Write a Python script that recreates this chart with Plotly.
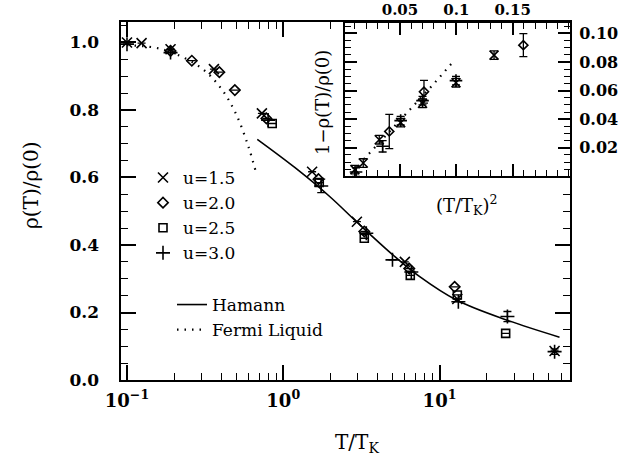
import plotly.graph_objects as go

W, H = 619, 465
FONT = "DejaVu Serif"

# ---------------- data (main panel) ----------------
T_u15 = [0.1, 0.124, 0.19, 0.36, 0.73, 1.53, 2.96, 6.0, 13.0, 54.5]
R_u15 = [1.0, 0.998, 0.98, 0.921, 0.79, 0.617, 0.469, 0.35, 0.24, 0.086]
E_u15 = [0, 0, 0, 0, 0, 0, 0, 0, 0, 0]

T_u20 = [0.19, 0.26, 0.39, 0.49, 0.78, 1.68, 3.3, 6.4, 12.5]
R_u20 = [0.975, 0.946, 0.912, 0.859, 0.775, 0.595, 0.44, 0.33, 0.276]
E_u20 = [0, 0, 0, 0, 0, 0, 0, 0, 0]

T_u25 = [0.85, 1.7, 3.3, 6.5, 13.0, 26.5]
R_u25 = [0.76, 0.585, 0.42, 0.31, 0.252, 0.138]
E_u25 = [0, 0, 0, 0, 0, 0]

T_u30 = [0.1, 0.19, 0.8, 1.75, 3.4, 5.0, 6.6, 13.2, 27.2, 54.5]
R_u30 = [0.995, 0.97, 0.77, 0.575, 0.435, 0.356, 0.32, 0.232, 0.188, 0.084]
E_u30 = [0, 0, 0, 0.02, 0, 0, 0, 0, 0.015, 0.008]

T_hamann = [0.682, 1.19, 1.99, 2.94, 5.05, 7.47, 12.8, 26.8, 58.6]
R_hamann = [0.713, 0.629, 0.543, 0.469, 0.370, 0.306, 0.237, 0.178, 0.127]

T_fermi = [0.1, 0.15, 0.2, 0.3, 0.4, 0.5, 0.6, 0.67]
R_fermi = [0.992, 0.985, 0.968, 0.924, 0.864, 0.787, 0.69, 0.614]

# ---------------- data (inset) ----------------
X2_u15 = [0.010, 0.0174, 0.0316, 0.0506, 0.070, 0.0997, 0.1335]
Y2_u15 = [0.0047, 0.0093, 0.0256, 0.0376, 0.0511, 0.0655, 0.0848]
E2_u15 = [0.003, 0.003, 0.003, 0.003, 0.003, 0.003, 0.003]

X2_u20 = [0.0405, 0.0713, 0.1595]
Y2_u20 = [0.0314, 0.0592, 0.0918]
E2_u20 = [0.012, 0.008, 0.008]

X2_u30 = [0.011, 0.0346, 0.0506, 0.070, 0.0997]
Y2_u30 = [0.003, 0.021, 0.039, 0.053, 0.067]
E2_u30 = [0.003, 0.004, 0.003, 0.003, 0.003]

X2_fermi = [0.018, 0.04, 0.06, 0.08, 0.097]
Y2_fermi = [0.012, 0.0307, 0.0477, 0.0647, 0.080]

# tick labels
YTICKS = [0.0, 0.2, 0.4, 0.6, 0.8, 1.0]
XTICKS = [0.1, 1, 10]
XTICKTEXT = ["10<sup>\u22121</sup>", "10<sup>0</sup>", "10<sup>1</sup>"]
X2TICKS = [0.05, 0.1, 0.15]
X2TICKTEXT = ["0.05", "0.1", "0.15"]
Y2TICKS = [0.02, 0.04, 0.06, 0.08, 0.10]
Y2TICKTEXT = ["0.02", "0.04", "0.06", "0.08", "0.10"]

fig = go.Figure()

def err(a):
    return dict(type="data", array=a, color="black", thickness=1.3, width=4, visible=True)

series = [
    ("u=1.5", "x-thin-open", 10, T_u15, R_u15, E_u15),
    ("u=2.0", "diamond-open", 8, T_u20, R_u20, E_u20),
    ("u=2.5", "square-open", 8, T_u25, R_u25, E_u25),
    ("u=3.0", "cross-thin-open", 10, T_u30, R_u30, E_u30),
]
for name, sym, sz, xs, ys, es in series:
    fig.add_trace(go.Scatter(
        x=xs, y=ys, mode="markers", name=name, legendgroup=name, legend="legend",
        marker=dict(symbol=sym, size=sz, color="black", line=dict(color="black", width=1.6)),
        error_y=err(es), xaxis="x", yaxis="y"))

fig.add_trace(go.Scatter(x=T_hamann, y=R_hamann, mode="lines", name="Hamann", legend="legend2",
                         line=dict(color="black", width=1.6, shape="spline"), xaxis="x", yaxis="y"))
fig.add_trace(go.Scatter(x=T_fermi, y=R_fermi, mode="lines", name="Fermi Liquid", legend="legend2",
                         line=dict(color="black", width=2.2, dash="1.5px,6px", shape="spline"), xaxis="x", yaxis="y"))

inset = [
    ("u=1.5", "x-thin-open", 9, X2_u15, Y2_u15, E2_u15),
    ("u=2.0", "diamond-open", 7, X2_u20, Y2_u20, E2_u20),
    ("u=3.0", "cross-thin-open", 9, X2_u30, Y2_u30, E2_u30),
]
for name, sym, sz, xs, ys, es in inset:
    fig.add_trace(go.Scatter(
        x=xs, y=ys, mode="markers", name=name, legendgroup=name, showlegend=False,
        marker=dict(symbol=sym, size=sz, color="black", line=dict(color="black", width=1.6)),
        error_y=err(es), xaxis="x2", yaxis="y2"))
fig.add_trace(go.Scatter(x=X2_fermi, y=Y2_fermi, mode="lines", showlegend=False,
                         line=dict(color="black", width=2.2, dash="1.5px,6px"), xaxis="x2", yaxis="y2"))

def px(x):
    return x / W

def py(y):
    return 1 - y / H

def tf(size):
    return dict(family=FONT, size=size, color="black", weight="bold")

common = dict(showline=True, linecolor="black", linewidth=2, mirror="ticks",
              showgrid=False, zeroline=False, automargin=False, tickcolor="black")

def label(text, x, y, size, angle=0):
    return dict(text=text, x=px(x), y=py(y), xref="paper", yref="paper",
                xanchor="center", yanchor="middle", showarrow=False, textangle=angle,
                font=dict(family=FONT, size=size, color="black"))

fig.update_layout(
    template="none",
    width=W, height=H,
    margin=dict(l=0, r=0, t=0, b=0, pad=0, autoexpand=False),
    paper_bgcolor="white", plot_bgcolor="white",
    font=dict(family=FONT, color="black"),
    xaxis=dict(type="log", domain=[px(120.5), px(570)], range=[-1.0415, 1.835],
               tickvals=XTICKS, ticktext=XTICKTEXT, tickfont=tf(18),
               ticks="inside", ticklen=15, tickwidth=1.5,
               minor=dict(ticks="inside", ticklen=7, tickwidth=1.2, tickcolor="black", dtick="D1"),
               anchor="y", ticklabelstandoff=3, **common),
    yaxis=dict(domain=[py(380), py(22)], range=[0, 1.0607],
               tickvals=YTICKS, tickformat=".1f", tickfont=tf(17),
               ticks="inside", ticklen=15, tickwidth=1.5,
               minor=dict(ticks="inside", ticklen=7, tickwidth=1.2, tickcolor="black", dtick=0.05),
               anchor="x", ticklabelstandoff=16, **common),
    xaxis2=dict(domain=[px(345), px(570)], range=[0.0012, 0.2009], side="top",
                tickvals=X2TICKS, ticktext=X2TICKTEXT, tickfont=tf(15),
                ticks="inside", ticklen=12, tickwidth=1.5,
                minor=dict(ticks="inside", ticklen=6, tickwidth=1.2, tickcolor="black", dtick=0.01),
                anchor="y2", ticklabelstandoff=0, **common),
    yaxis2=dict(domain=[py(176.3), py(23)], range=[0, 0.1073], side="right",
                tickvals=Y2TICKS, ticktext=Y2TICKTEXT, tickfont=tf(16),
                ticks="inside", ticklen=12, tickwidth=1.5,
                minor=dict(ticks="inside", ticklen=6, tickwidth=1.2, tickcolor="black", dtick=0.005),
                anchor="x2", ticklabelstandoff=4, **common),
    legend=dict(x=px(143), y=py(160), xanchor="left", yanchor="top", bgcolor="rgba(0,0,0,0)",
                font=dict(family=FONT, size=17, color="black"), tracegroupgap=0, itemwidth=30),
    legend2=dict(x=px(172), y=py(287), xanchor="left", yanchor="top", bgcolor="rgba(0,0,0,0)",
                 font=dict(family=FONT, size=17, color="black"), tracegroupgap=0, itemwidth=30),
    annotations=[
        label("\u03c1(T)/\u03c1(0)", 31, 185, 20, -90),
        label("T/T<sub>K</sub>", 357, 443, 20),
        label("1\u2212\u03c1(T)/\u03c1(0)", 323, 103, 18, -90),
        label("(T/T<sub>K</sub>)<sup>2</sup>", 467, 205, 18),
    ],
)

fig.write_html("out.html")
